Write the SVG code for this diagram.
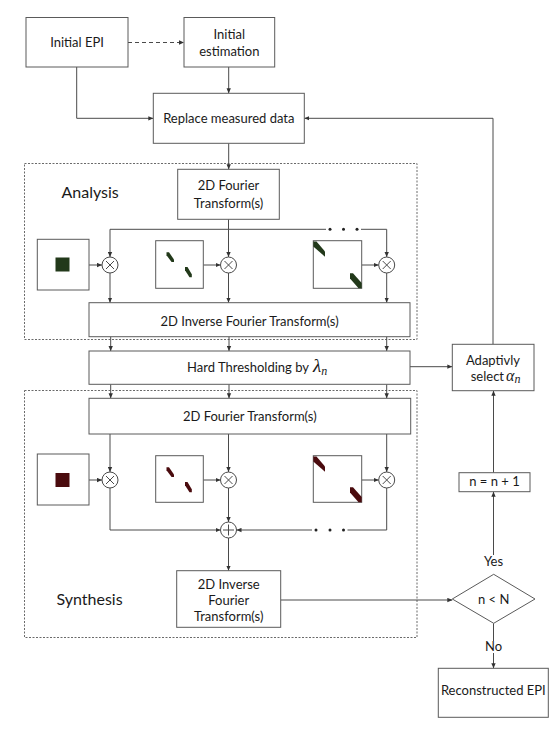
<svg xmlns="http://www.w3.org/2000/svg" width="558" height="740" viewBox="0 0 558 740">
<style>
.box{fill:#fff;stroke:#5a5a5a;stroke-width:1}
.dot{fill:none;stroke:#6a6a6a;stroke-width:1;stroke-dasharray:2,1.5}
.t{font-family:Lato,"Liberation Sans",sans-serif;font-size:13px;fill:#1a1a1a;text-anchor:middle}
.big{font-family:Lato,"Liberation Sans",sans-serif;font-size:16px;fill:#1a1a1a}
.m{font-family:"Liberation Serif","DejaVu Serif",serif;font-style:italic;fill:#1a1a1a}
.ln{fill:none;stroke:#4a4a4a;stroke-width:1}
.ar{fill:none;stroke:#4a4a4a;stroke-width:1;marker-end:url(#ah)}
.op{fill:#fff;stroke:#4a4a4a;stroke-width:1}
.g{fill:#22391a}
.r{fill:#4a0b0e}
.dt{fill:#222}
</style>
<defs>
<marker id="ah" viewBox="0 0 6 6" refX="6" refY="3" markerWidth="5" markerHeight="5" orient="auto" markerUnits="userSpaceOnUse">
<path d="M0,0.4 L6,3 L0,5.6 z" fill="#333"/>
</marker>
</defs>
<rect width="558" height="740" fill="#fff"/>

<!-- dotted groups -->
<g id="analysis-group">
<rect class="dot" x="24.5" y="163.5" width="392.5" height="176"/>
<text class="big" x="61.5" y="198">Analysis</text>
</g>
<g id="synthesis-group">
<rect class="dot" x="24.5" y="390.5" width="392.5" height="247"/>
<text class="big" x="56.5" y="605">Synthesis</text>
</g>

<g id="connectors">
<path class="ar" d="M128,42.5 H184" stroke-dasharray="4,3"/>
<path class="ar" d="M228.7,67 V93.3"/>
<path class="ar" d="M76.7,67 V118.3 H153.3"/>
<path class="ar" d="M493,344.3 V118.3 H304.3"/>
<path class="ar" d="M228.7,143.3 V169.3"/>
<!-- analysis distribution -->
<path class="ln" d="M228.5,219.3 V229.3"/>
<path class="ln" d="M110,229.3 H326"/>
<path class="ln" d="M361,229.3 H386.7"/>
<circle class="dt" cx="330" cy="229.3" r="1.5"/>
<circle class="dt" cx="343.5" cy="229.3" r="1.5"/>
<circle class="dt" cx="357" cy="229.3" r="1.5"/>
<path class="ar" d="M110,229.3 V257"/>
<path class="ar" d="M228.5,229.3 V257"/>
<path class="ar" d="M386.7,229.3 V257"/>
<path class="ar" d="M89,265 H102"/>
<path class="ar" d="M203.3,265 H220.5"/>
<path class="ar" d="M361.7,265 H378.7"/>
<path class="ar" d="M110,273 V302.7"/>
<path class="ar" d="M228.5,273 V302.7"/>
<path class="ar" d="M386.7,273 V302.7"/>
<path class="ar" d="M110.7,336.7 V351"/>
<path class="ar" d="M229,336.7 V351"/>
<path class="ar" d="M386.7,336.7 V351"/>
<path class="ar" d="M410,366.7 H452.3"/>
<path class="ar" d="M110.7,384.3 V398.3"/>
<path class="ar" d="M229,384.3 V398.3"/>
<path class="ar" d="M386.7,384.3 V398.3"/>
<!-- synthesis -->
<path class="ar" d="M110,434 V472"/>
<path class="ar" d="M228.5,434 V472"/>
<path class="ar" d="M386.7,434 V472"/>
<path class="ar" d="M89,480 H102"/>
<path class="ar" d="M203.3,480 H220.5"/>
<path class="ar" d="M361.7,480 H378.7"/>
<path class="ar" d="M110,488 V530 H220.5"/>
<path class="ar" d="M228.5,488 V522"/>
<path class="ln" d="M386.7,488 V530 H347.5"/>
<circle class="dt" cx="316" cy="530" r="1.5"/>
<circle class="dt" cx="330" cy="530" r="1.5"/>
<circle class="dt" cx="343.5" cy="530" r="1.5"/>
<path class="ar" d="M312,530 H236.5"/>
<path class="ar" d="M228.5,538 V570.7"/>
<path class="ar" d="M280.7,600 H452.3"/>
<path class="ar" d="M493.5,555 V491.7"/>
<path class="ar" d="M493.5,472.7 V390.7"/>
<path class="ln" d="M493.5,623.3 V641"/>
<path class="ar" d="M493.5,653 V668.3"/>
</g>

<g id="initial-epi"><rect class="box" x="26" y="17.5" width="102" height="49.5"/><text class="t" x="77" y="46.5">Initial EPI</text></g>
<g id="initial-estimation"><rect class="box" x="184" y="17.5" width="90.7" height="49.5"/><text class="t" x="229.3" y="38.5">Initial</text><text class="t" x="229.3" y="55.5">estimation</text></g>
<g id="replace-measured"><rect class="box" x="153.3" y="93.3" width="151" height="50"/><text class="t" x="228.8" y="122.5">Replace measured data</text></g>

<g id="analysis-ft"><rect class="box" x="177.7" y="169.3" width="101.6" height="50"/><text class="t" x="228.5" y="190">2D Fourier</text><text class="t" x="228.5" y="207.5">Transform(s)</text></g>

<g id="analysis-img1"><rect class="box" x="37.3" y="239.3" width="51.7" height="50.7"/><rect class="g" x="55.5" y="257.5" width="14" height="14"/></g>
<g id="analysis-img2"><rect class="box" x="155.7" y="240.7" width="47.6" height="47.6"/>
<polygon class="g" points="166.5,252.3 169,252.3 174,259.4 174,262 171.6,262 166.5,255.2"/>
<polygon class="g" points="185,267 187.5,267 191.8,274.3 191.8,277.3 189.5,277.3 185,270.2"/></g>
<g id="analysis-img3"><rect class="box" x="313.3" y="240.7" width="48.4" height="47.6"/>
<polygon class="g" points="313.3,241.5 316.5,241.5 325,251.5 325,256.7 313.3,246.5"/>
<polygon class="g" points="350,273.3 353,273.3 361.7,283 361.7,288.3 358.5,288.3 350,278.5"/></g>

<g id="analysis-mul1"><circle class="op" cx="110" cy="265" r="8"/><path class="ln" d="M106,261 L114,269 M114,261 L106,269"/></g>
<g id="analysis-mul2"><circle class="op" cx="228.5" cy="265" r="8"/><path class="ln" d="M224.5,261 L232.5,269 M232.5,261 L224.5,269"/></g>
<g id="analysis-mul3"><circle class="op" cx="386.7" cy="265" r="8"/><path class="ln" d="M382.7,261 L390.7,269 M390.7,261 L382.7,269"/></g>

<g id="analysis-ift"><rect class="box" x="89" y="302.7" width="321" height="34"/><text class="t" x="249.5" y="325.5">2D Inverse Fourier Transform(s)</text></g>

<g id="hard-threshold"><rect class="box" x="89" y="351" width="321" height="33.3"/>
<text class="t" x="309" y="372" style="text-anchor:end">Hard Thresholding by</text>
<text class="m" x="313" y="372" font-size="19">λ<tspan font-size="12" dy="2.5">n</tspan></text></g>

<g id="adaptive-select"><rect class="box" x="452.3" y="344.3" width="81.7" height="46.4"/>
<text class="t" x="493" y="364.5">Adaptivly</text>
<text class="t" x="504" y="381" style="text-anchor:end">select</text>
<text class="m" x="506" y="381" font-size="16">α<tspan font-size="12" dy="2">n</tspan></text></g>

<g id="synthesis-ft"><rect class="box" x="89" y="398.3" width="321.7" height="35.7"/><text class="t" x="249.8" y="421">2D Fourier Transform(s)</text></g>

<g id="synthesis-img1"><rect class="box" x="37.3" y="454" width="51.7" height="51"/><rect class="r" x="55.5" y="473" width="14" height="14"/></g>
<g id="synthesis-img2"><rect class="box" x="155.7" y="455.7" width="47.6" height="46.6"/>
<polygon class="r" points="166.5,467.3 169,467.3 174,474.4 174,477 171.6,477 166.5,470.2"/>
<polygon class="r" points="185,482 187.5,482 191.8,489.3 191.8,492.3 189.5,492.3 185,485.2"/></g>
<g id="synthesis-img3"><rect class="box" x="313.3" y="455.7" width="48.4" height="46.6"/>
<polygon class="r" points="313.3,456.5 316.5,456.5 325,466.5 325,471.7 313.3,461.5"/>
<polygon class="r" points="350,487.3 353,487.3 361.7,497 361.7,502.3 358.5,502.3 350,492.5"/></g>

<g id="synthesis-mul1"><circle class="op" cx="110" cy="480" r="8"/><path class="ln" d="M106,476 L114,484 M114,476 L106,484"/></g>
<g id="synthesis-mul2"><circle class="op" cx="228.5" cy="480" r="8"/><path class="ln" d="M224.5,476 L232.5,484 M232.5,476 L224.5,484"/></g>
<g id="synthesis-mul3"><circle class="op" cx="386.7" cy="480" r="8"/><path class="ln" d="M382.7,476 L390.7,484 M390.7,476 L382.7,484"/></g>
<g id="synthesis-sum"><circle class="op" cx="228.5" cy="530" r="8"/><path class="ln" d="M228.5,524.5 V535.5 M223,530 H234"/></g>

<g id="synthesis-ift"><rect class="box" x="176.7" y="570.7" width="104" height="56.6"/>
<text class="t" x="228.7" y="588.5">2D Inverse</text><text class="t" x="228.7" y="604.5">Fourier</text><text class="t" x="228.7" y="620.5">Transform(s)</text></g>

<g id="increment"><rect class="box" x="459" y="472.7" width="71" height="19"/><text class="t" x="494.5" y="485.5">n = n + 1</text></g>

<g id="decision"><polygon class="box" points="493.7,574.3 535,599 493.7,623.3 452.3,599"/><text class="t" x="493.7" y="603.5">n &lt; N</text></g>
<g id="label-yes"><text class="t" x="493.5" y="566">Yes</text></g>
<g id="label-no"><text class="t" x="493.5" y="651">No</text></g>

<g id="reconstructed"><rect class="box" x="438.3" y="668.3" width="110" height="49"/><text class="t" x="493.3" y="695">Reconstructed EPI</text></g>
</svg>
